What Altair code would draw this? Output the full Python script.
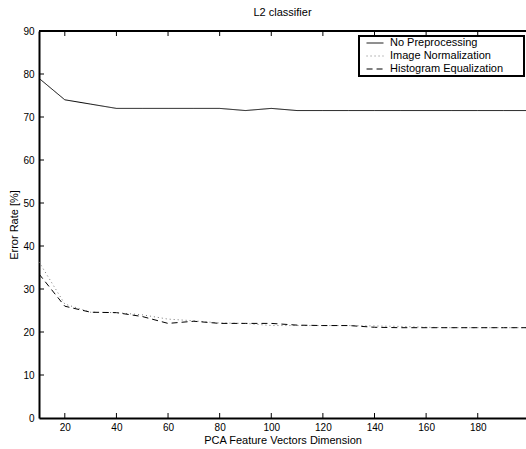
import altair as alt
import pandas as pd

dims = [10, 20, 30, 40, 50, 60, 70, 80, 90, 100, 110, 120, 130, 140, 150, 160, 170, 180, 190, 200]
no_pre = [79, 74, 73, 72, 72, 72, 72, 72, 71.5, 72, 71.5, 71.5, 71.5, 71.5, 71.5, 71.5, 71.5, 71.5, 71.5, 71.5]
img_norm = [36.3, 26.5, 24.6, 24.5, 24, 23, 22.6, 22.1, 22, 21.5, 21.5, 21.5, 21.5, 21.4, 21.3, 21.1, 21, 21, 21, 21]
hist_eq = [33.5, 26, 24.6, 24.5, 23.6, 22, 22.5, 22, 22, 22, 21.6, 21.5, 21.5, 21.1, 21, 21, 21, 21, 21, 21]
series = ["No Preprocessing", "Image Normalization", "Histogram Equalization"]
x_ticks = [20, 40, 60, 80, 100, 120, 140, 160, 180]
y_ticks = [0, 10, 20, 30, 40, 50, 60, 70, 80, 90]

rows = []
for name, vals in zip(series, [no_pre, img_norm, hist_eq]):
    for d, v in zip(dims, vals):
        rows.append({"dim": d, "err": v, "method": name})
df = pd.DataFrame(rows)

W, H = 487, 387
FONT = "Liberation Sans"
xscale = alt.Scale(domain=[10, 198.7], nice=False, zero=False)
yscale = alt.Scale(domain=[0, 90], nice=False)

legend = alt.Legend(title=None, orient="none", legendX=327, legendY=3,
                    symbolType="M-1.3,0H1.3", padding=2, symbolSize=169, symbolStrokeWidth=1,
                    symbolFillColor="transparent",
                    labelFontSize=11, labelFont=FONT, labelColor="black", rowPadding=1,
                    labelOffset=8, labelLimit=300)

# legend frame (drawn behind the legend)
box = alt.Chart(pd.DataFrame({"k": [0]})).mark_rect(fill="white", stroke="black", strokeWidth=2).encode(
    x=alt.value(320), x2=alt.value(485), y=alt.value(5), y2=alt.value(45))

lines = alt.Chart(df).mark_line(strokeWidth=1, clip=True).encode(
    x=alt.X("dim:Q", scale=xscale,
            axis=alt.Axis(values=x_ticks, title="PCA Feature Vectors Dimension", ticks=False,
                          grid=False, domainColor="black", domainWidth=2, labelPadding=4,
                          titlePadding=2, titleFontWeight="normal")),
    y=alt.Y("err:Q", scale=yscale,
            axis=alt.Axis(values=y_ticks, title="Error Rate [%]", ticks=False, grid=False,
                          domainColor="black", domainWidth=2, labelPadding=5, titlePadding=3,
                          titleFontWeight="normal")),
    color=alt.Color("method:N", scale=alt.Scale(domain=series, range=["black", "#777777", "black"]),
                    legend=legend),
    strokeDash=alt.StrokeDash("method:N", scale=alt.Scale(domain=series, range=[[1, 0], [1, 3], [6, 4]]),
                              legend=legend),
)

xt = pd.DataFrame({"t": x_ticks})
yt = pd.DataFrame({"t": y_ticks[1:-1]})
bottom_ticks = alt.Chart(xt).mark_rule(color="black", strokeWidth=1).encode(
    x=alt.X("t:Q", scale=xscale), y=alt.value(H), y2=alt.value(H - 5))
top_ticks = alt.Chart(xt).mark_rule(color="black", strokeWidth=1).encode(
    x=alt.X("t:Q", scale=xscale), y=alt.value(0), y2=alt.value(5))
left_ticks = alt.Chart(yt).mark_rule(color="black", strokeWidth=1).encode(
    y=alt.Y("t:Q", scale=yscale), x=alt.value(0), x2=alt.value(5))
top_line = alt.Chart(xt).mark_rule(color="black", strokeWidth=2).encode(
    x=alt.value(0), x2=alt.value(W), y=alt.value(0))

chart = alt.layer(lines, bottom_ticks, top_ticks, left_ticks, top_line, box).properties(
    width=W, height=H,
    title=alt.TitleParams("L2 classifier", fontSize=11, fontWeight="normal", font=FONT, offset=8),
    autosize=alt.AutoSizeParams(type="none"),
    padding={"left": 39, "top": 31, "right": 0, "bottom": 31},
).configure_view(stroke=None).configure_axis(
    labelFont=FONT, titleFont=FONT, labelFontSize=11, titleFontSize=11,
    titleFontWeight="normal", labelColor="black", titleColor="black"
).configure(background="white")

chart.save("out.html", embed_options={"renderer": "svg", "actions": False})
